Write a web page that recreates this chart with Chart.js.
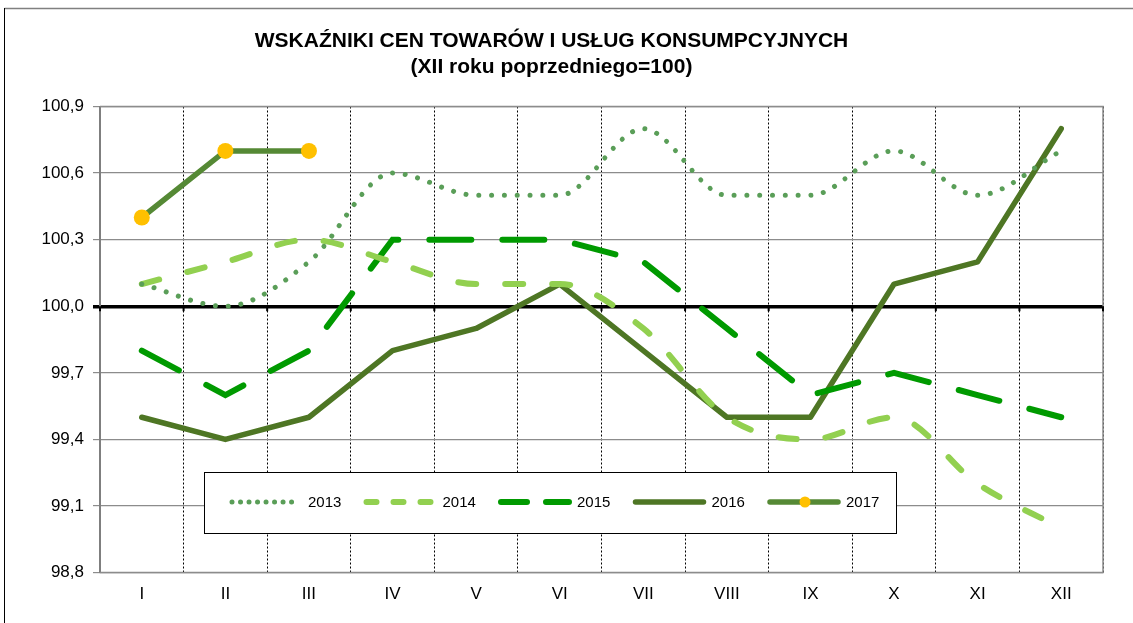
<!DOCTYPE html>
<html>
<head>
<meta charset="utf-8">
<script src="https://cdn.jsdelivr.net/npm/chart.js@4.4.0/dist/chart.umd.min.js"></script>
<style>
  html, body { margin: 0; padding: 0; background: #fff; }
  #wrap { width: 1133px; height: 623px; position: relative; }
</style>
</head>
<body>
<div id="wrap"><canvas id="cpiChart" width="1133" height="623"></canvas></div>
<script>
// miesiące i wartości (XII roku poprzedniego = 100)
const months = ['I', 'II', 'III', 'IV', 'V', 'VI', 'VII', 'VIII', 'IX', 'X', 'XI', 'XII'];
const years = ['2013', '2014', '2015', '2016', '2017'];
const v2013 = [100.1, 100.0, 100.2, 100.6, 100.5, 100.5, 100.8, 100.5, 100.5, 100.7, 100.5, 100.7];
const v2014 = [100.1, 100.2, 100.3, 100.2, 100.1, 100.1, 99.9, 99.5, 99.4, 99.5, 99.2, 99.0];
const v2015 = [99.8, 99.6, 99.8, 100.3, 100.3, 100.3, 100.2, 99.9, 99.6, 99.7, 99.6, 99.5];
const v2016 = [99.5, 99.4, 99.5, 99.8, 99.9, 100.1, 99.8, 99.5, 99.5, 100.1, 100.2, 100.8];
const v2017 = [100.4, 100.7, 100.7, null, null, null, null, null, null, null, null, null];
const yMin = 98.8, yMax = 100.9, yStep = 0.3;

const FONT = 'Arial, "Liberation Sans", sans-serif';

// ramka wokół wykresu, kreski na osi 100 i legenda
const framePlugin = {
    id: 'frame',
    beforeDraw(chart) {
        const ctx = chart.ctx;
        ctx.save();
        ctx.strokeStyle = '#808080';
        ctx.lineWidth = 1.5;
        ctx.beginPath();
        ctx.moveTo(4.5, 8.5);
        ctx.lineTo(1140, 8.5);
        ctx.stroke();
        ctx.strokeStyle = '#000';
        ctx.lineWidth = 1;
        ctx.beginPath();
        ctx.moveTo(4.5, 8);
        ctx.lineTo(4.5, 700);
        ctx.stroke();
        ctx.restore();
    },
    beforeDatasetsDraw(chart) {
        const ctx = chart.ctx;
        const a = chart.chartArea;
        const x = chart.scales.x;
        const y0 = chart.scales.y.getPixelForValue(100);
        ctx.save();
        ctx.strokeStyle = '#8c8c8c';
        ctx.lineWidth = 1.5;
        ctx.beginPath();
        ctx.moveTo(a.left, a.top);
        ctx.lineTo(a.right, a.top);
        ctx.lineTo(a.right, a.bottom);
        ctx.lineTo(a.left, a.bottom);
        ctx.stroke();
        // kreski podziałki na linii 100
        const half = (x.getPixelForValue(1) - x.getPixelForValue(0)) / 2;
        ctx.strokeStyle = '#000';
        ctx.lineWidth = 2;
        ctx.beginPath();
        for (let i = 0; i <= months.length; i++) {
            const px = x.getPixelForValue(0) - half + i * half * 2;
            ctx.moveTo(px, y0);
            ctx.lineTo(px, y0 + 5);
        }
        ctx.stroke();
        ctx.restore();
    },
    afterDatasetsDraw(chart) {
        const ctx = chart.ctx;
        const box = { l: 204.5, t: 472.5, r: 896.5, b: 533.5 };
        ctx.save();
        ctx.fillStyle = '#fff';
        ctx.fillRect(box.l, box.t, box.r - box.l, box.b - box.t);
        ctx.strokeStyle = '#000';
        ctx.lineWidth = 1;
        ctx.strokeRect(box.l, box.t, box.r - box.l, box.b - box.t);
        const cy = 502;
        chart.data.datasets.forEach((ds, i) => {
            const x0 = 232 + i * 134.5;
            ctx.save();
            ctx.strokeStyle = ds.borderColor;
            ctx.lineWidth = ds.borderWidth;
            ctx.lineCap = 'round';
            ctx.setLineDash(ds.legendDash || []);
            ctx.beginPath();
            ctx.moveTo(x0, cy);
            ctx.lineTo(x0 + 68, cy);
            ctx.stroke();
            ctx.restore();
            if (ds.pointRadius) {
                ctx.fillStyle = ds.pointBackgroundColor;
                ctx.beginPath();
                ctx.arc(x0 + 35, cy, 5.5, 0, Math.PI * 2);
                ctx.fill();
            }
            ctx.fillStyle = '#000';
            ctx.font = '15px ' + FONT;
            ctx.textBaseline = 'middle';
            ctx.fillText(ds.label, x0 + 76, cy + 1);
        });
        ctx.restore();
    }
};

new Chart(document.getElementById('cpiChart'), {
    type: 'line',
    data: {
        labels: months,
        datasets: [
            {
                label: years[0],
                data: v2013,
                borderColor: '#5a9e58',
                borderWidth: 5,
                borderDash: [0.01, 12.8],
                borderCapStyle: 'round',
                legendDash: [0.01, 8.5],
                cubicInterpolationMode: 'monotone',
                pointRadius: 0
            },
            {
                label: years[1],
                data: v2014,
                borderColor: '#92d050',
                borderWidth: 6,
                borderDash: [18, 29],
                borderCapStyle: 'round',
                legendDash: [10, 17],
                cubicInterpolationMode: 'monotone',
                pointRadius: 0
            },
            {
                label: years[2],
                data: v2015,
                borderColor: '#009a00',
                borderWidth: 6,
                borderDash: [42, 31],
                borderCapStyle: 'round',
                legendDash: [26, 19],
                tension: 0,
                pointRadius: 0
            },
            {
                label: years[3],
                data: v2016,
                borderColor: '#4e7624',
                borderWidth: 5.5,
                borderCapStyle: 'round',
                borderJoinStyle: 'round',
                tension: 0,
                pointRadius: 0
            },
            {
                label: years[4],
                data: v2017,
                borderColor: '#558935',
                borderWidth: 5.5,
                borderCapStyle: 'round',
                tension: 0,
                pointRadius: 8,
                pointHoverRadius: 8,
                pointBackgroundColor: '#ffc000',
                pointBorderColor: '#ffc000',
                pointBorderWidth: 0,
                spanGaps: false
            }
        ]
    },
    options: {
        responsive: false,
        animation: false,
        events: [],
        layout: { padding: { left: 0, right: 30, top: 0, bottom: 6 } },
        plugins: {
            legend: { display: false },
            tooltip: { enabled: false },
            title: {
                display: true,
                text: ['WSKAŹNIKI CEN TOWARÓW I USŁUG KONSUMPCYJNYCH', '(XII roku poprzedniego=100)'],
                color: '#000',
                font: { family: FONT, size: 21, weight: 'bold', lineHeight: 1.25 },
                padding: { top: 28, bottom: 26 }
            }
        },
        scales: {
            x: {
                offset: true,
                grid: {
                    offset: true,
                    color: '#000',
                    lineWidth: 1,
                    drawTicks: false
                },
                border: { display: false, dash: [2, 2] },
                ticks: {
                    color: '#000',
                    font: { family: FONT, size: 17 },
                    padding: 12,
                    maxRotation: 0
                }
            },
            y: {
                min: yMin,
                max: yMax,
                afterFit(scale) { scale.width = 100; },
                ticks: {
                    stepSize: yStep,
                    color: '#000',
                    font: { family: FONT, size: 17 },
                    padding: 9,
                    callback: v => v.toFixed(1).replace('.', ',')
                },
                grid: {
                    color: c => (c.tick && Math.abs(c.tick.value - 100) < 1e-6) ? '#000' : '#8c8c8c',
                    lineWidth: c => (c.tick && Math.abs(c.tick.value - 100) < 1e-6) ? 3.5 : 1.2,
                    tickLength: 7
                },
                border: { color: '#7f7f7f', width: 2 }
            }
        }
    },
    plugins: [framePlugin]
});
</script>
</body>
</html>
